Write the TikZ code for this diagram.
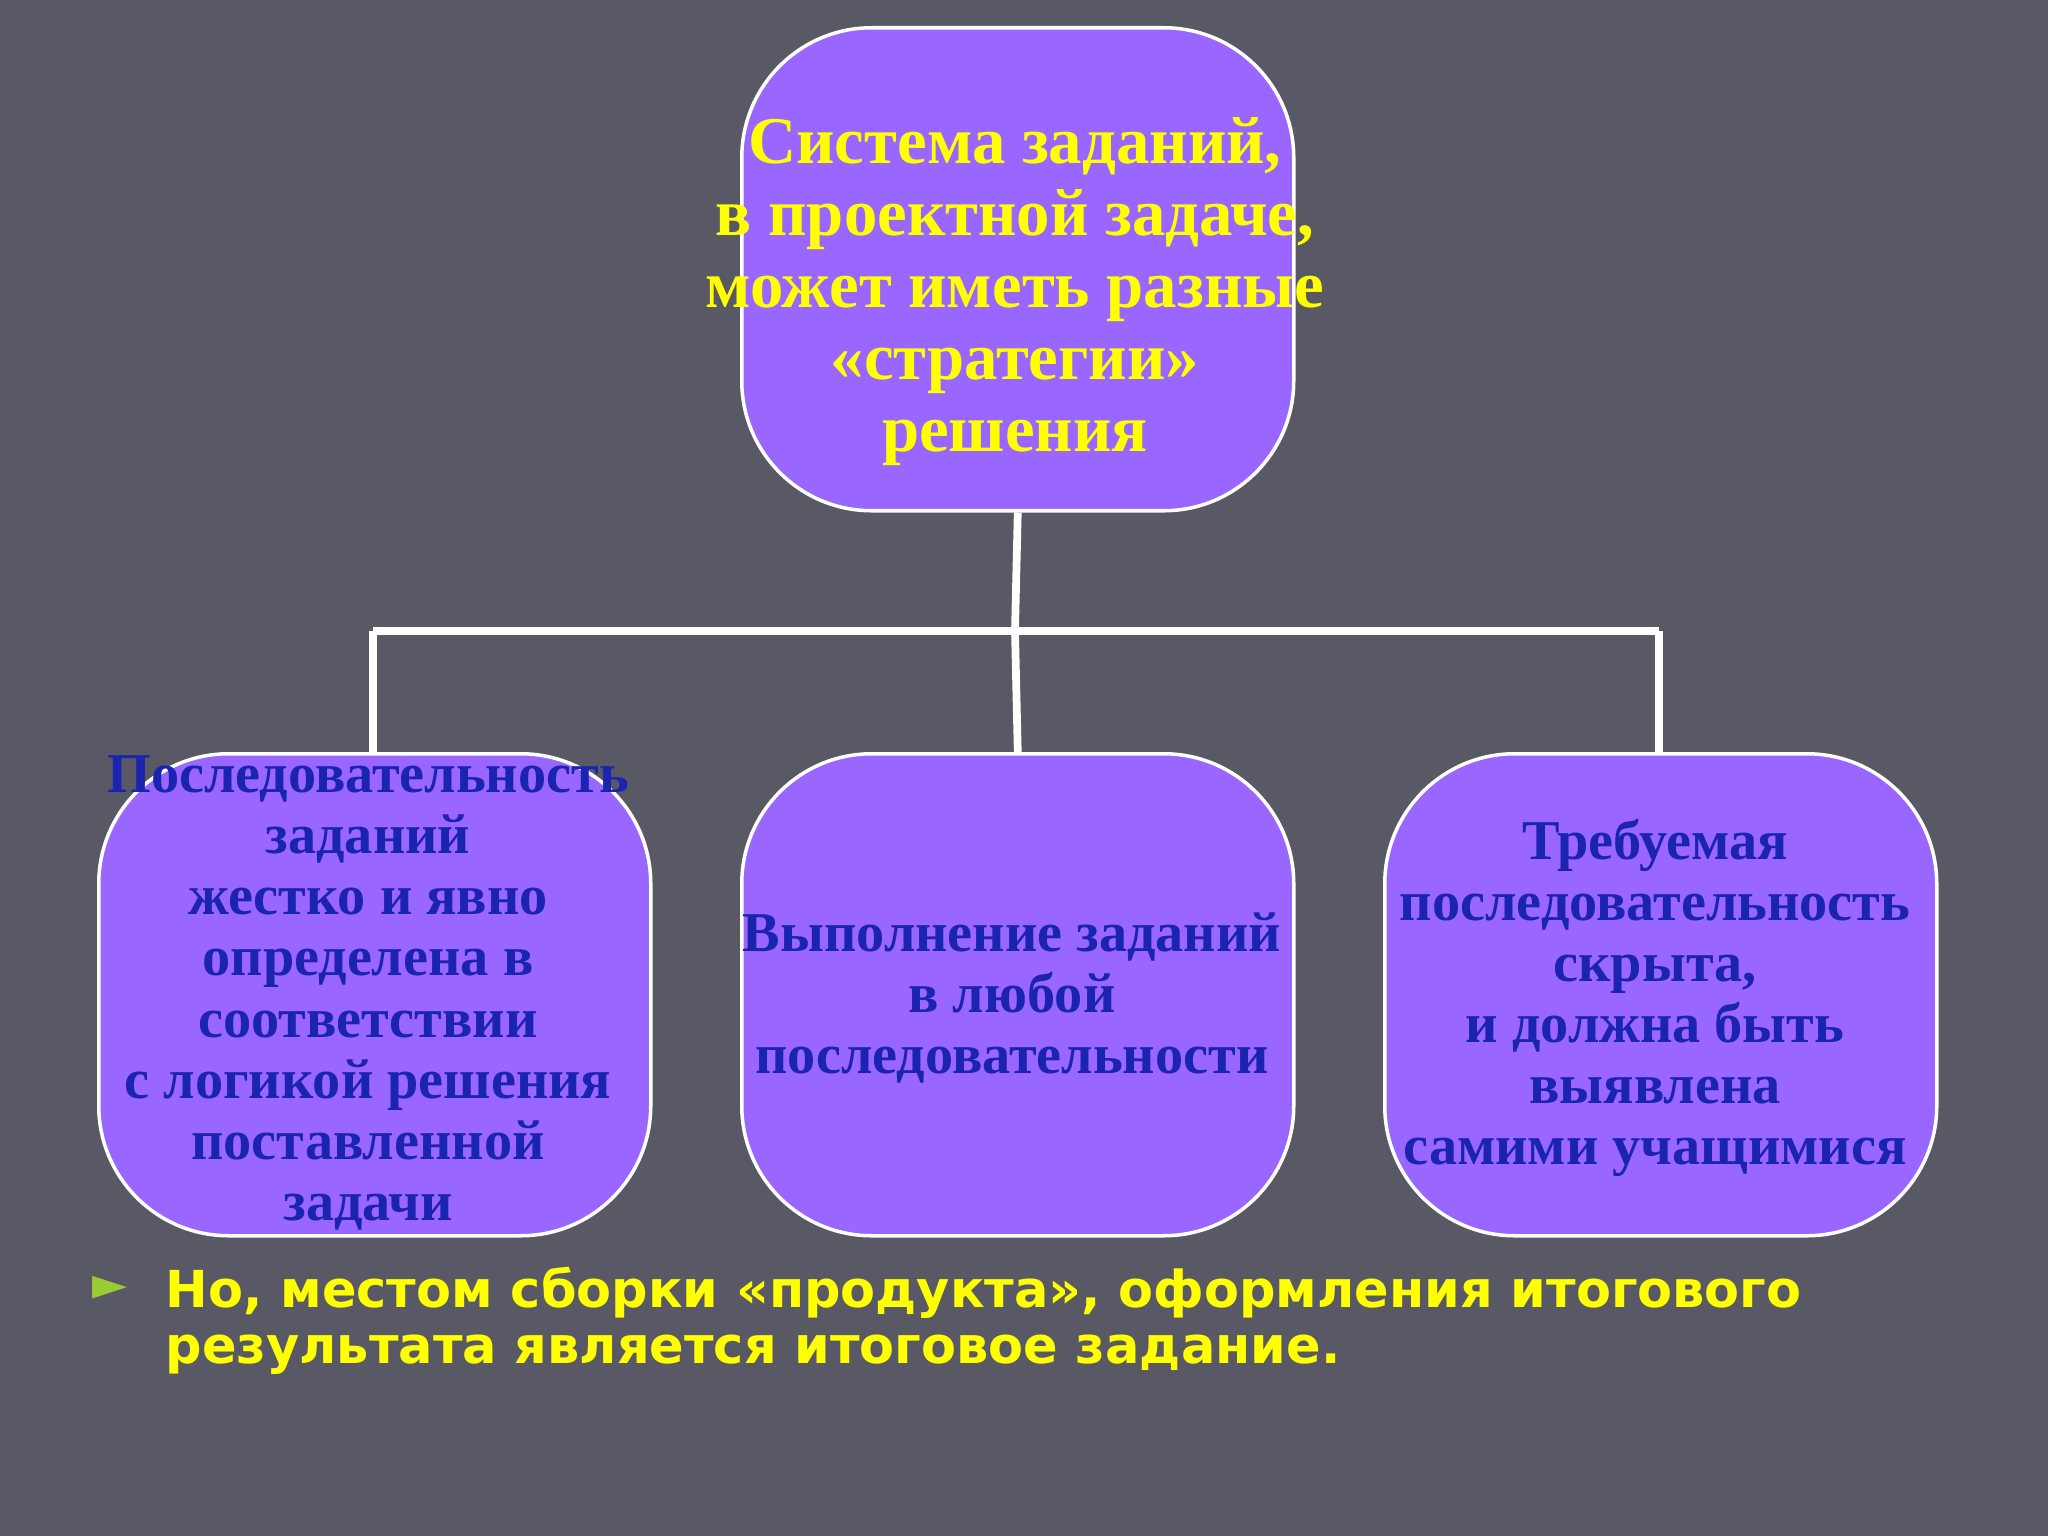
\documentclass[tikz,border=0pt]{standalone}
\usepackage{fontspec}
\setmainfont{Liberation Serif}
\newfontfamily\bulletfont{DejaVu Sans}
\definecolor{bg}{HTML}{595966}
\definecolor{boxfill}{HTML}{9966FF}
\definecolor{ylw}{HTML}{FFFF00}
\definecolor{blu}{HTML}{1A24B0}
\definecolor{grn}{HTML}{99CC33}
\tikzset{
 box/.style={draw=white, line width=1pt, fill=boxfill, rounded corners=1.3cm, minimum width=5.52cm, anchor=north west},
 toptext/.style={align=center, font=\bfseries\fontsize{19}{20.5}\selectfont, text=ylw},
 subtext/.style={align=center, font=\bfseries\fontsize{16}{17.4}\selectfont, text=blu},
 conn/.style={draw=white, line width=2.2pt}
}
\begin{document}
\begin{tikzpicture}[x=1cm,y=-1cm]
\fill[bg] (0,0) rectangle (20.48,15.36);
\useasboundingbox (0,0) rectangle (20.48,15.36);
\node[box, minimum height=4.83cm] (top) at (7.40,0.26) {};
\node[box, minimum height=4.82cm] (l) at (0.97,7.52) {};
\node[box, minimum height=4.82cm] (m) at (7.40,7.52) {};
\node[box, minimum height=4.82cm] (r) at (13.83,7.52) {};
\coordinate (j) at (10.15,6.31);
\coordinate (jl) at (3.73,6.31);
\coordinate (jr) at (16.59,6.31);
\draw[conn] (top.south) -- (j);
\draw[conn] (jl) -- (jr);
\draw[conn] (jl) -- (jl |- l.north);
\draw[conn] (j) -- (m.north);
\draw[conn] (jr) -- (jr |- r.north);
\node[toptext] (tt) at (10.15,2.92) {Система заданий,\\ в проектной задаче,\\может иметь разные\\«стратегии»\\ решения};
\node[subtext] (lt) at (3.68,9.93) {Последовательность\\ заданий\\ жестко и явно\\ определена в\\ соответствии\\ с логикой решения\\ поставленной\\ задачи};
\node[subtext] (mt) at (10.12,9.98) {Выполнение заданий\\ в любой\\ последовательности};
\node[subtext] (rt) at (16.55,9.98) {Требуемая\\ последовательность\\ скрыта,\\ и должна быть\\ выявлена\\ самими учащимися};
\node[text=grn, font=\bulletfont\fontsize{13}{13}\selectfont] (bl) at (1.10,12.88) {►};
\node[anchor=north west, align=left, text=ylw, inner sep=0pt, font=\bulletfont\bfseries\fontsize{14.5}{16}\selectfont] (bt) at (1.65,12.66) {Но, местом сборки «продукта», оформления итогового\\результата является итоговое задание.};
\end{tikzpicture}
\end{document}
